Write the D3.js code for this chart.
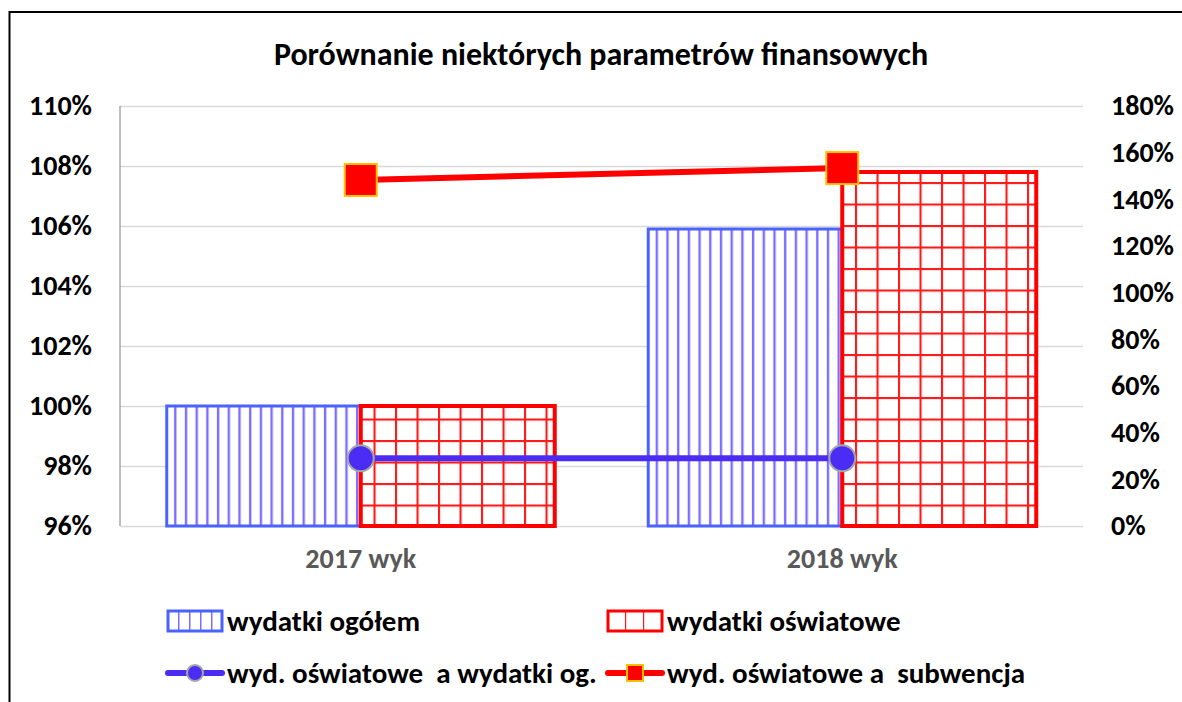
<!DOCTYPE html>
<html>
<head>
<meta charset="utf-8">
<script src="https://cdn.jsdelivr.net/npm/d3@7"></script>
<style>
  body { margin: 0; background: #fff; }
  svg text { font-family: Carlito, Calibri, Lato, sans-serif; font-weight: bold; white-space: pre; }
</style>
</head>
<body>
<script>
// data
var categories = ["2017 wyk", "2018 wyk"];
var barSeries = ["wydatki ogółem", "wydatki oświatowe"];
var wydatkiOgolem = [1.00, 1.059];
var wydatkiOswiatowe = [1.00, 1.078];
var lineSeries = ["wyd. oświatowe  a wydatki og.", "wyd. oświatowe a  subwencja"];
var oswVsOgolem = [0.29, 0.29];
var oswVsSubwencja = [1.483, 1.534];
var leftTicks = [0.96, 0.98, 1.00, 1.02, 1.04, 1.06, 1.08, 1.10];
var rightTicks = [0, 0.2, 0.4, 0.6, 0.8, 1.0, 1.2, 1.4, 1.6, 1.8];

var width = 1182, height = 702;
var plot = {left: 120, right: 1083, top: 106, bottom: 526};

var svg = d3.select("body").append("svg").attr("width", width).attr("height", height);

// chart frame (runs off the picture on the right and bottom)
svg.append("rect").attr("x", 9.5).attr("y", 12).attr("width", 1300).attr("height", 900)
    .attr("fill", "none").attr("stroke", "#000").attr("stroke-width", 2);

var defs = svg.append("defs");
var vp = defs.append("pattern").attr("id", "vlines").attr("patternUnits", "userSpaceOnUse")
    .attr("width", 10.7).attr("height", 10).attr("x", 168);
vp.append("rect").attr("width", 10.7).attr("height", 10).attr("fill", "#fff");
vp.append("line").attr("x1", 5).attr("x2", 5).attr("y1", 0).attr("y2", 10)
    .attr("stroke", "#5a48ff").attr("stroke-opacity", 0.8).attr("stroke-width", 2.4);

var gp = defs.append("pattern").attr("id", "grid").attr("patternUnits", "userSpaceOnUse")
    .attr("width", 21.5).attr("height", 21.5).attr("x", 361).attr("y", 526);
gp.append("rect").attr("width", 21.5).attr("height", 21.5).attr("fill", "#fff");
gp.append("line").attr("x1", 1).attr("x2", 1).attr("y1", 0).attr("y2", 21.5)
    .attr("stroke", "#ff1a1a").attr("stroke-width", 2.2);
gp.append("line").attr("x1", 0).attr("x2", 21.5).attr("y1", 1).attr("y2", 1)
    .attr("stroke", "#ff1a1a").attr("stroke-width", 2.2);

var lp = defs.append("pattern").attr("id", "vlinesLegend").attr("patternUnits", "userSpaceOnUse")
    .attr("width", 11).attr("height", 10).attr("x", 167);
lp.append("rect").attr("width", 11).attr("height", 10).attr("fill", "#fff");
lp.append("line").attr("x1", 0).attr("x2", 0).attr("y1", 0).attr("y2", 10)
    .attr("stroke", "#5a48ff").attr("stroke-opacity", 0.8).attr("stroke-width", 3);
var rp = defs.append("pattern").attr("id", "gridLegend").attr("patternUnits", "userSpaceOnUse")
    .attr("width", 18).attr("height", 40).attr("x", 607);
rp.append("rect").attr("width", 18).attr("height", 40).attr("fill", "#fff");
rp.append("line").attr("x1", 0).attr("x2", 0).attr("y1", 0).attr("y2", 40)
    .attr("stroke", "#ff1a1a").attr("stroke-width", 2.4);

// scales
var x = d3.scaleBand().domain(categories).range([plot.left, plot.right]).padding(0);
var xSub = d3.scaleBand().domain(barSeries).range([0, x.bandwidth()]).paddingInner(0).paddingOuter(0.241);
var yL = d3.scaleLinear().domain([0.96, 1.10]).range([plot.bottom, plot.top]);
var yR = d3.scaleLinear().domain([0, 1.8]).range([plot.bottom, plot.top]);

// gridlines
svg.append("g").attr("class", "grid")
    .attr("transform", "translate(" + plot.left + ",0)")
    .call(d3.axisLeft(yL).tickValues(leftTicks).tickSize(-(plot.right - plot.left)).tickFormat(""))
    .call(function(g) {
        g.select(".domain").remove();
        g.selectAll("line").attr("stroke", "#d9d9d9").attr("stroke-width", 1.5);
    });

// left axis line
svg.append("line").attr("x1", plot.left).attr("x2", plot.left)
    .attr("y1", plot.top).attr("y2", plot.bottom).attr("stroke", "#7f7f7f").attr("stroke-width", 1);

// axes labels
svg.append("g").attr("transform", "translate(" + (plot.left - 28) + ",0)")
    .call(d3.axisLeft(yL).tickValues(leftTicks).tickSize(0).tickPadding(0).tickFormat(d3.format(".0%")))
    .call(function(g) {
        g.select(".domain").remove();
        g.selectAll("text").attr("fill", "#000").style("font-size", "28px");
    });
svg.append("g").attr("transform", "translate(" + (plot.right + 28) + ",0)")
    .call(d3.axisRight(yR).tickValues(rightTicks).tickSize(0).tickPadding(0).tickFormat(d3.format(".0%")))
    .call(function(g) {
        g.select(".domain").remove();
        g.selectAll("text").attr("fill", "#000").style("font-size", "28px");
    });
svg.append("g").attr("transform", "translate(0," + (plot.bottom + 22) + ")")
    .call(d3.axisBottom(x).tickSize(0).tickPadding(0))
    .call(function(g) {
        g.select(".domain").remove();
        g.selectAll("text").attr("fill", "#595959").style("font-size", "28px");
    });

// bars
var barData = categories.map(function(c, i) {
    return [{cat: c, key: barSeries[0], value: wydatkiOgolem[i]},
            {cat: c, key: barSeries[1], value: wydatkiOswiatowe[i]}];
});
var fills = {"wydatki ogółem": "url(#vlines)", "wydatki oświatowe": "url(#grid)"};
var strokes = {"wydatki ogółem": "#4a63ff", "wydatki oświatowe": "#ff0000"};
var strokeW = {"wydatki ogółem": 3, "wydatki oświatowe": 4};

svg.append("g").selectAll("g").data(barData).enter().append("g")
    .attr("transform", function(d) { return "translate(" + x(d[0].cat) + ",0)"; })
    .selectAll("rect").data(function(d) { return d; }).enter().append("rect")
    .attr("x", function(d) { return xSub(d.key); })
    .attr("width", xSub.bandwidth())
    .attr("y", function(d) { return yL(d.value); })
    .attr("height", function(d) { return plot.bottom - yL(d.value); })
    .attr("fill", function(d) { return fills[d.key]; })
    .attr("stroke", function(d) { return strokes[d.key]; })
    .attr("stroke-width", function(d) { return strokeW[d.key]; });

// lines on right axis
var cx = function(c) { return x(c) + x.bandwidth() / 2; };
var line = d3.line().x(function(d) { return cx(d.cat); }).y(function(d) { return yR(d.value); });
var blueData = categories.map(function(c, i) { return {cat: c, value: oswVsOgolem[i]}; });
var redData = categories.map(function(c, i) { return {cat: c, value: oswVsSubwencja[i]}; });

svg.append("path").datum(blueData).attr("d", line)
    .attr("fill", "none").attr("stroke", "#4a2cf5").attr("stroke-width", 6);
svg.append("g").selectAll("circle").data(blueData).enter().append("circle")
    .attr("cx", function(d) { return cx(d.cat); })
    .attr("cy", function(d) { return yR(d.value); })
    .attr("r", 13).attr("fill", "#4a2cf5").attr("stroke", "#a6a6a6").attr("stroke-width", 2);

svg.append("path").datum(redData).attr("d", line)
    .attr("fill", "none").attr("stroke", "#ff0000").attr("stroke-width", 6);
svg.append("g").selectAll("rect").data(redData).enter().append("rect")
    .attr("x", function(d) { return cx(d.cat) - 16; })
    .attr("y", function(d) { return yR(d.value) - 16; })
    .attr("width", 32).attr("height", 32)
    .attr("fill", "#ff0000").attr("stroke", "#ffc000").attr("stroke-width", 2);

// title
svg.append("text").attr("x", 601).attr("y", 65).attr("text-anchor", "middle")
    .style("font-size", "32px").attr("fill", "#000")
    .text("Porównanie niektórych parametrów finansowych");

// legend
var legend = svg.append("g");
var row1 = 621, row2 = 673, fs = "29px";
legend.append("rect").attr("x", 168).attr("y", row1 - 10).attr("width", 54).attr("height", 20)
    .attr("fill", "url(#vlinesLegend)").attr("stroke", "#4a63ff").attr("stroke-width", 3);
legend.append("text").attr("x", 227).attr("y", row1).attr("dy", "0.35em")
    .style("font-size", fs).text(barSeries[0]);
legend.append("rect").attr("x", 608).attr("y", row1 - 10).attr("width", 54).attr("height", 20)
    .attr("fill", "url(#gridLegend)").attr("stroke", "#ff0000").attr("stroke-width", 3);
legend.append("text").attr("x", 667).attr("y", row1).attr("dy", "0.35em")
    .style("font-size", fs).text(barSeries[1]);

legend.append("line").attr("x1", 168).attr("x2", 222).attr("y1", row2).attr("y2", row2)
    .attr("stroke", "#4a2cf5").attr("stroke-width", 6).attr("stroke-linecap", "round");
legend.append("circle").attr("cx", 195).attr("cy", row2).attr("r", 8)
    .attr("fill", "#4a2cf5").attr("stroke", "#a6a6a6").attr("stroke-width", 2);
legend.append("text").attr("x", 227).attr("y", row2).attr("dy", "0.35em")
    .style("font-size", fs).text(lineSeries[0]);
legend.append("line").attr("x1", 608).attr("x2", 662).attr("y1", row2).attr("y2", row2)
    .attr("stroke", "#ff0000").attr("stroke-width", 6).attr("stroke-linecap", "round");
legend.append("rect").attr("x", 627).attr("y", row2 - 8).attr("width", 16).attr("height", 16)
    .attr("fill", "#ff0000").attr("stroke", "#ffc000").attr("stroke-width", 2);
legend.append("text").attr("x", 667).attr("y", row2).attr("dy", "0.35em")
    .style("font-size", fs).text(lineSeries[1]);
</script>
</body>
</html>
